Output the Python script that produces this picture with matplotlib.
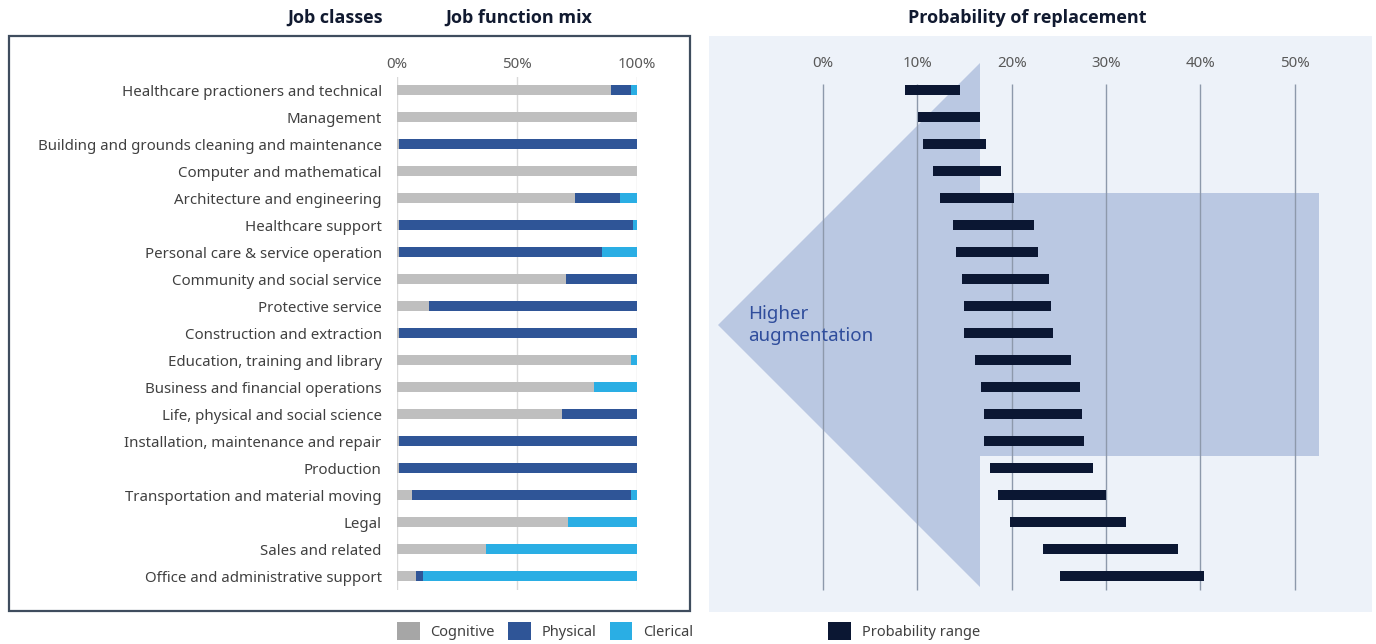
import matplotlib
matplotlib.use("Agg")
import matplotlib.pyplot as plt
from matplotlib.patches import Patch, Polygon, Rectangle
import numpy as np

plt.rcParams['font.family'] = ['Noto Sans', 'DejaVu Sans']

categories = [
    "Healthcare practioners and technical", "Management",
    "Building and grounds cleaning and maintenance", "Computer and mathematical",
    "Architecture and engineering", "Healthcare support",
    "Personal care & service operation", "Community and social service",
    "Protective service", "Construction and extraction",
    "Education, training and library", "Business and financial operations",
    "Life, physical and social science", "Installation, maintenance and repair",
    "Production", "Transportation and material moving", "Legal",
    "Sales and related", "Office and administrative support",
]
cognitive = [89, 100, 1, 100, 74, 1, 1, 70.4, 13.4, 1, 97.5, 82.2, 68.6, 1, 1, 6.2, 71.4, 36.9, 8]
physical = [8.5, 0, 99, 0, 19, 97.5, 84.5, 29.6, 86.6, 99, 0, 0, 31.4, 99, 99, 91.3, 0, 0, 2.7]
clerical = [2.5, 0, 0, 0, 7, 1.5, 14.5, 0, 0, 0, 2.5, 17.8, 0, 0, 0, 2.5, 28.6, 63.1, 89.3]

prob_low = [8.7, 10.1, 10.6, 11.7, 12.4, 13.8, 14.1, 14.7, 15.0, 15.0,
            16.1, 16.8, 17.1, 17.1, 17.7, 18.5, 19.8, 23.3, 25.1]
prob_high = [14.5, 16.6, 17.3, 18.9, 20.3, 22.4, 22.8, 24.0, 24.2, 24.4,
             26.3, 27.2, 27.5, 27.7, 28.6, 30.0, 32.1, 37.6, 40.4]

mix_ticks = [0, 50, 100]
mix_ticklabels = ["0%", "50%", "100%"]
prob_ticks = [0, 10, 20, 30, 40, 50]
prob_ticklabels = ["0%", "10%", "20%", "30%", "40%", "50%"]

C_COG, C_PHY, C_CLE, C_PROB = "#bfbfbf", "#2f5597", "#2aaee4", "#0b1733"
TXT = "#404040"
BOLD_FAMILY = ['Open Sans', 'Lato', 'DejaVu Sans']

W, H = 1376, 644
fig = plt.figure(figsize=(W / 100, H / 100), dpi=100)

def fx(px):
    return px / W

def fy(px):
    return 1 - px / H

# left frame
fig.patches.append(Rectangle((fx(9), fy(611)), fx(690) - fx(9), fy(36) - fy(611),
                             transform=fig.transFigure, fill=False,
                             edgecolor="#3f4d5e", linewidth=1.6, zorder=-1))

n = len(categories)
y = np.arange(n)

# ---- left axes: job function mix
axL = fig.add_axes([fx(397), fy(589.5), fx(637) - fx(397), fy(76.5) - fy(589.5)])
axL.set_facecolor("none")
cog = np.array(cognitive)
phy = np.array(physical)
cle = np.array(clerical)
axL.barh(y, cog, height=0.4, color=C_COG, label="Cognitive", zorder=3)
axL.barh(y, phy, left=cog, height=0.4, color=C_PHY, label="Physical", zorder=3)
axL.barh(y, cle, left=cog + phy, height=0.4, color=C_CLE, label="Clerical", zorder=3)
axL.set_xlim(0, 100)
axL.set_ylim(n - 0.5, -0.5)
axL.set_xticks(mix_ticks)
axL.set_xticklabels(mix_ticklabels)
axL.xaxis.tick_top()
axL.set_yticks(y)
axL.set_yticklabels(categories)
axL.tick_params(axis="y", length=0, pad=11, labelsize=10.8, labelcolor=TXT)
axL.tick_params(axis="x", length=0, pad=3, labelsize=10.8, labelcolor="#595959")
axL.grid(axis="x", color="#d9d9d9", linewidth=1, zorder=0)
axL.set_axisbelow(True)
for s in axL.spines.values():
    s.set_visible(False)

# ---- right axes: probability of replacement
x0px, pxper = 823.0, 9.433
axR = fig.add_axes([fx(709), fy(612), fx(1372) - fx(709), fy(36) - fy(612)])
axR.set_facecolor("#edf2f9")
axR.set_xlim((709 - x0px) / pxper, (1372 - x0px) / pxper)
axR.set_ylim((612 - 90) / 27, (36 - 90) / 27)

def dx(px):
    return (px - x0px) / pxper

def dy(px):
    return (px - 90) / 27

arrow = Polygon([(dx(718), dy(325)), (dx(980), dy(63)), (dx(980), dy(193)),
                 (dx(1319), dy(193)), (dx(1319), dy(456)), (dx(980), dy(456)),
                 (dx(980), dy(587))], closed=True, facecolor="#bac8e2",
                edgecolor="none", zorder=1)
axR.add_patch(arrow)
axR.vlines(prob_ticks, dy(84), dy(590), color="#8d99ab", linewidth=1.0, zorder=2)
lo = np.array(prob_low)
hi = np.array(prob_high)
axR.barh(y, hi - lo, left=lo, height=0.37, color=C_PROB, label="Probability range", zorder=3)
axR.set_xticks(prob_ticks)
axR.set_xticklabels(prob_ticklabels)
axR.xaxis.tick_top()
axR.tick_params(axis="x", length=0, direction="in", pad=-25.5, labelsize=10.8, labelcolor="#595959")
axR.set_yticks([])
for s in axR.spines.values():
    s.set_visible(False)
axR.text(dx(748), dy(325), "Higher\naugmentation", fontsize=13.5, color="#2f4d9c",
         ha="left", va="center", linespacing=1.25, zorder=4)

# titles
tkw = dict(va="center", fontsize=13, fontweight="bold", color="#111a30", family=BOLD_FAMILY)
fig.text(fx(383), fy(18), "Job classes", ha="right", **tkw)
fig.text(fx(519), fy(18), "Job function mix", ha="center", **tkw)
fig.text(fx(1027), fy(18), "Probability of replacement", ha="center", **tkw)

# legends
lkw = dict(frameon=False, fontsize=10.5, handlelength=1.55, handleheight=1.55,
           handletextpad=0.75, labelcolor=TXT, borderaxespad=0, borderpad=0)
hL = [Patch(facecolor="#a6a6a6", label="Cognitive"),
      Patch(facecolor=C_PHY, label="Physical"),
      Patch(facecolor=C_CLE, label="Clerical")]
fig.legend(handles=hL, loc="center left", bbox_to_anchor=(fx(397), fy(631)), ncol=3,
           columnspacing=0.9, **lkw)
hR = [Patch(facecolor=C_PROB, label="Probability range")]
fig.legend(handles=hR, loc="center left", bbox_to_anchor=(fx(828), fy(631)), ncol=1, **lkw)

fig.savefig("out.png", dpi=100)
